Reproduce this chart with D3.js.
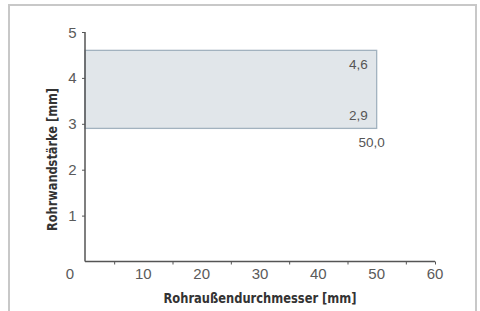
<!DOCTYPE html>
<html><head><meta charset="utf-8">
<script src="https://cdn.jsdelivr.net/npm/d3@7"></script>
<style>
html,body{margin:0;padding:0;background:#fff;}
svg{display:block;}
</style></head>
<body>
<svg id="chart" width="480" height="311"></svg>
<script>
// Data
const xRange = [0, 50.0];        // Rohraußendurchmesser [mm]
const yRange = [2.9, 4.6];       // Rohrwandstärke [mm]
const xTickLabels = [10, 20, 30, 40, 50, 60];
const xMinorTicks = [5, 15, 25, 35, 45, 55, 60];
const yTickLabels = [1, 2, 3, 4, 5];
const valueLabels = ["4,6", "2,9", "50,0"];
const xTitle = "Rohraußendurchmesser [mm]";
const yTitle = "Rohrwandstärke [mm]";

const svg = d3.select("#chart");
const x = d3.scaleLinear().domain([0, 60]).range([85, 435]);
const y = d3.scaleLinear().domain([0, 5]).range([261.5, 32]);

// frame
svg.append("rect").attr("x", 9).attr("y", 5).attr("width", 467).attr("height", 320)
  .attr("fill", "none").attr("stroke", "#c8c8c8").attr("stroke-width", 2);

// range rectangle
svg.append("rect")
  .attr("x", x(xRange[0])).attr("y", y(yRange[1]))
  .attr("width", x(xRange[1]) - x(xRange[0]))
  .attr("height", y(yRange[0]) - y(yRange[1]))
  .attr("fill", "#e1e6ea").attr("stroke", "#a2b2bf").attr("stroke-width", 1.3);

const axisColor = "#555";
// x axis
const xAxis = d3.axisBottom(x).tickValues(xMinorTicks).tickSize(3).tickFormat("");
const gx = svg.append("g").attr("transform", `translate(0,${y(0)})`).call(xAxis);
gx.select(".domain").attr("d", `M${x(0)},0H${x(60)}`).attr("stroke", axisColor).attr("stroke-width", 1.5);
gx.selectAll(".tick line").attr("stroke", axisColor).attr("stroke-width", 1);

// y axis
const yAxis = d3.axisLeft(y).tickValues(yTickLabels).tickSize(3).tickFormat("");
const gy = svg.append("g").attr("transform", `translate(${x(0)},0)`).call(yAxis);
gy.select(".domain").attr("d", `M0,${y(5)}V${y(0)}`).attr("stroke", axisColor).attr("stroke-width", 1.5);
gy.selectAll(".tick line").attr("stroke", axisColor).attr("stroke-width", 1);

const tickFont = "'Liberation Sans', Arial, sans-serif";
// x tick labels
svg.selectAll(".xl").data(xTickLabels).enter().append("text")
  .attr("x", d => x(d)).attr("y", 278.5)
  .attr("text-anchor", "middle").attr("font-family", tickFont).attr("font-size", 15)
  .attr("fill", "#5a5a5a").text(d => d);
// origin label
svg.append("text").attr("x", 70).attr("y", 278.5).attr("text-anchor", "middle")
  .attr("font-family", tickFont).attr("font-size", 15).attr("fill", "#5a5a5a").text("0");
// y tick labels
svg.selectAll(".yl").data(yTickLabels).enter().append("text")
  .attr("x", 76.5).attr("y", d => y(d) + 5.5)
  .attr("text-anchor", "end").attr("font-family", tickFont).attr("font-size", 15)
  .attr("fill", "#5a5a5a").text(d => d);

// value labels
const vFont = 13.5;
svg.append("text").attr("x", x(xRange[1]) - 9).attr("y", y(yRange[1]) + 18.5)
  .attr("text-anchor", "end").attr("font-family", tickFont).attr("font-size", vFont)
  .attr("fill", "#555").text(valueLabels[0]);
svg.append("text").attr("x", x(xRange[1]) - 9).attr("y", y(yRange[0]) - 8)
  .attr("text-anchor", "end").attr("font-family", tickFont).attr("font-size", vFont)
  .attr("fill", "#555").text(valueLabels[1]);
svg.append("text").attr("x", x(xRange[1]) + 8).attr("y", y(yRange[0]) + 19)
  .attr("text-anchor", "end").attr("font-family", tickFont).attr("font-size", vFont)
  .attr("fill", "#555").text(valueLabels[2]);

// axis titles
const titleFont = "'Liberation Sans Narrow', 'DejaVu Sans Condensed', Arial, sans-serif";
svg.append("text").attr("x", 260).attr("y", 303).attr("text-anchor", "middle")
  .attr("font-family", titleFont).attr("font-weight", "bold").attr("font-size", 14)
  .attr("textLength", 193).attr("lengthAdjust", "spacingAndGlyphs")
  .attr("fill", "#333").text(xTitle);
svg.append("text").attr("transform", "translate(57,159.5) rotate(-90)")
  .attr("text-anchor", "middle")
  .attr("font-family", titleFont).attr("font-weight", "bold").attr("font-size", 14)
  .attr("textLength", 143).attr("lengthAdjust", "spacingAndGlyphs")
  .attr("fill", "#333").text(yTitle);
</script>
</body></html>
